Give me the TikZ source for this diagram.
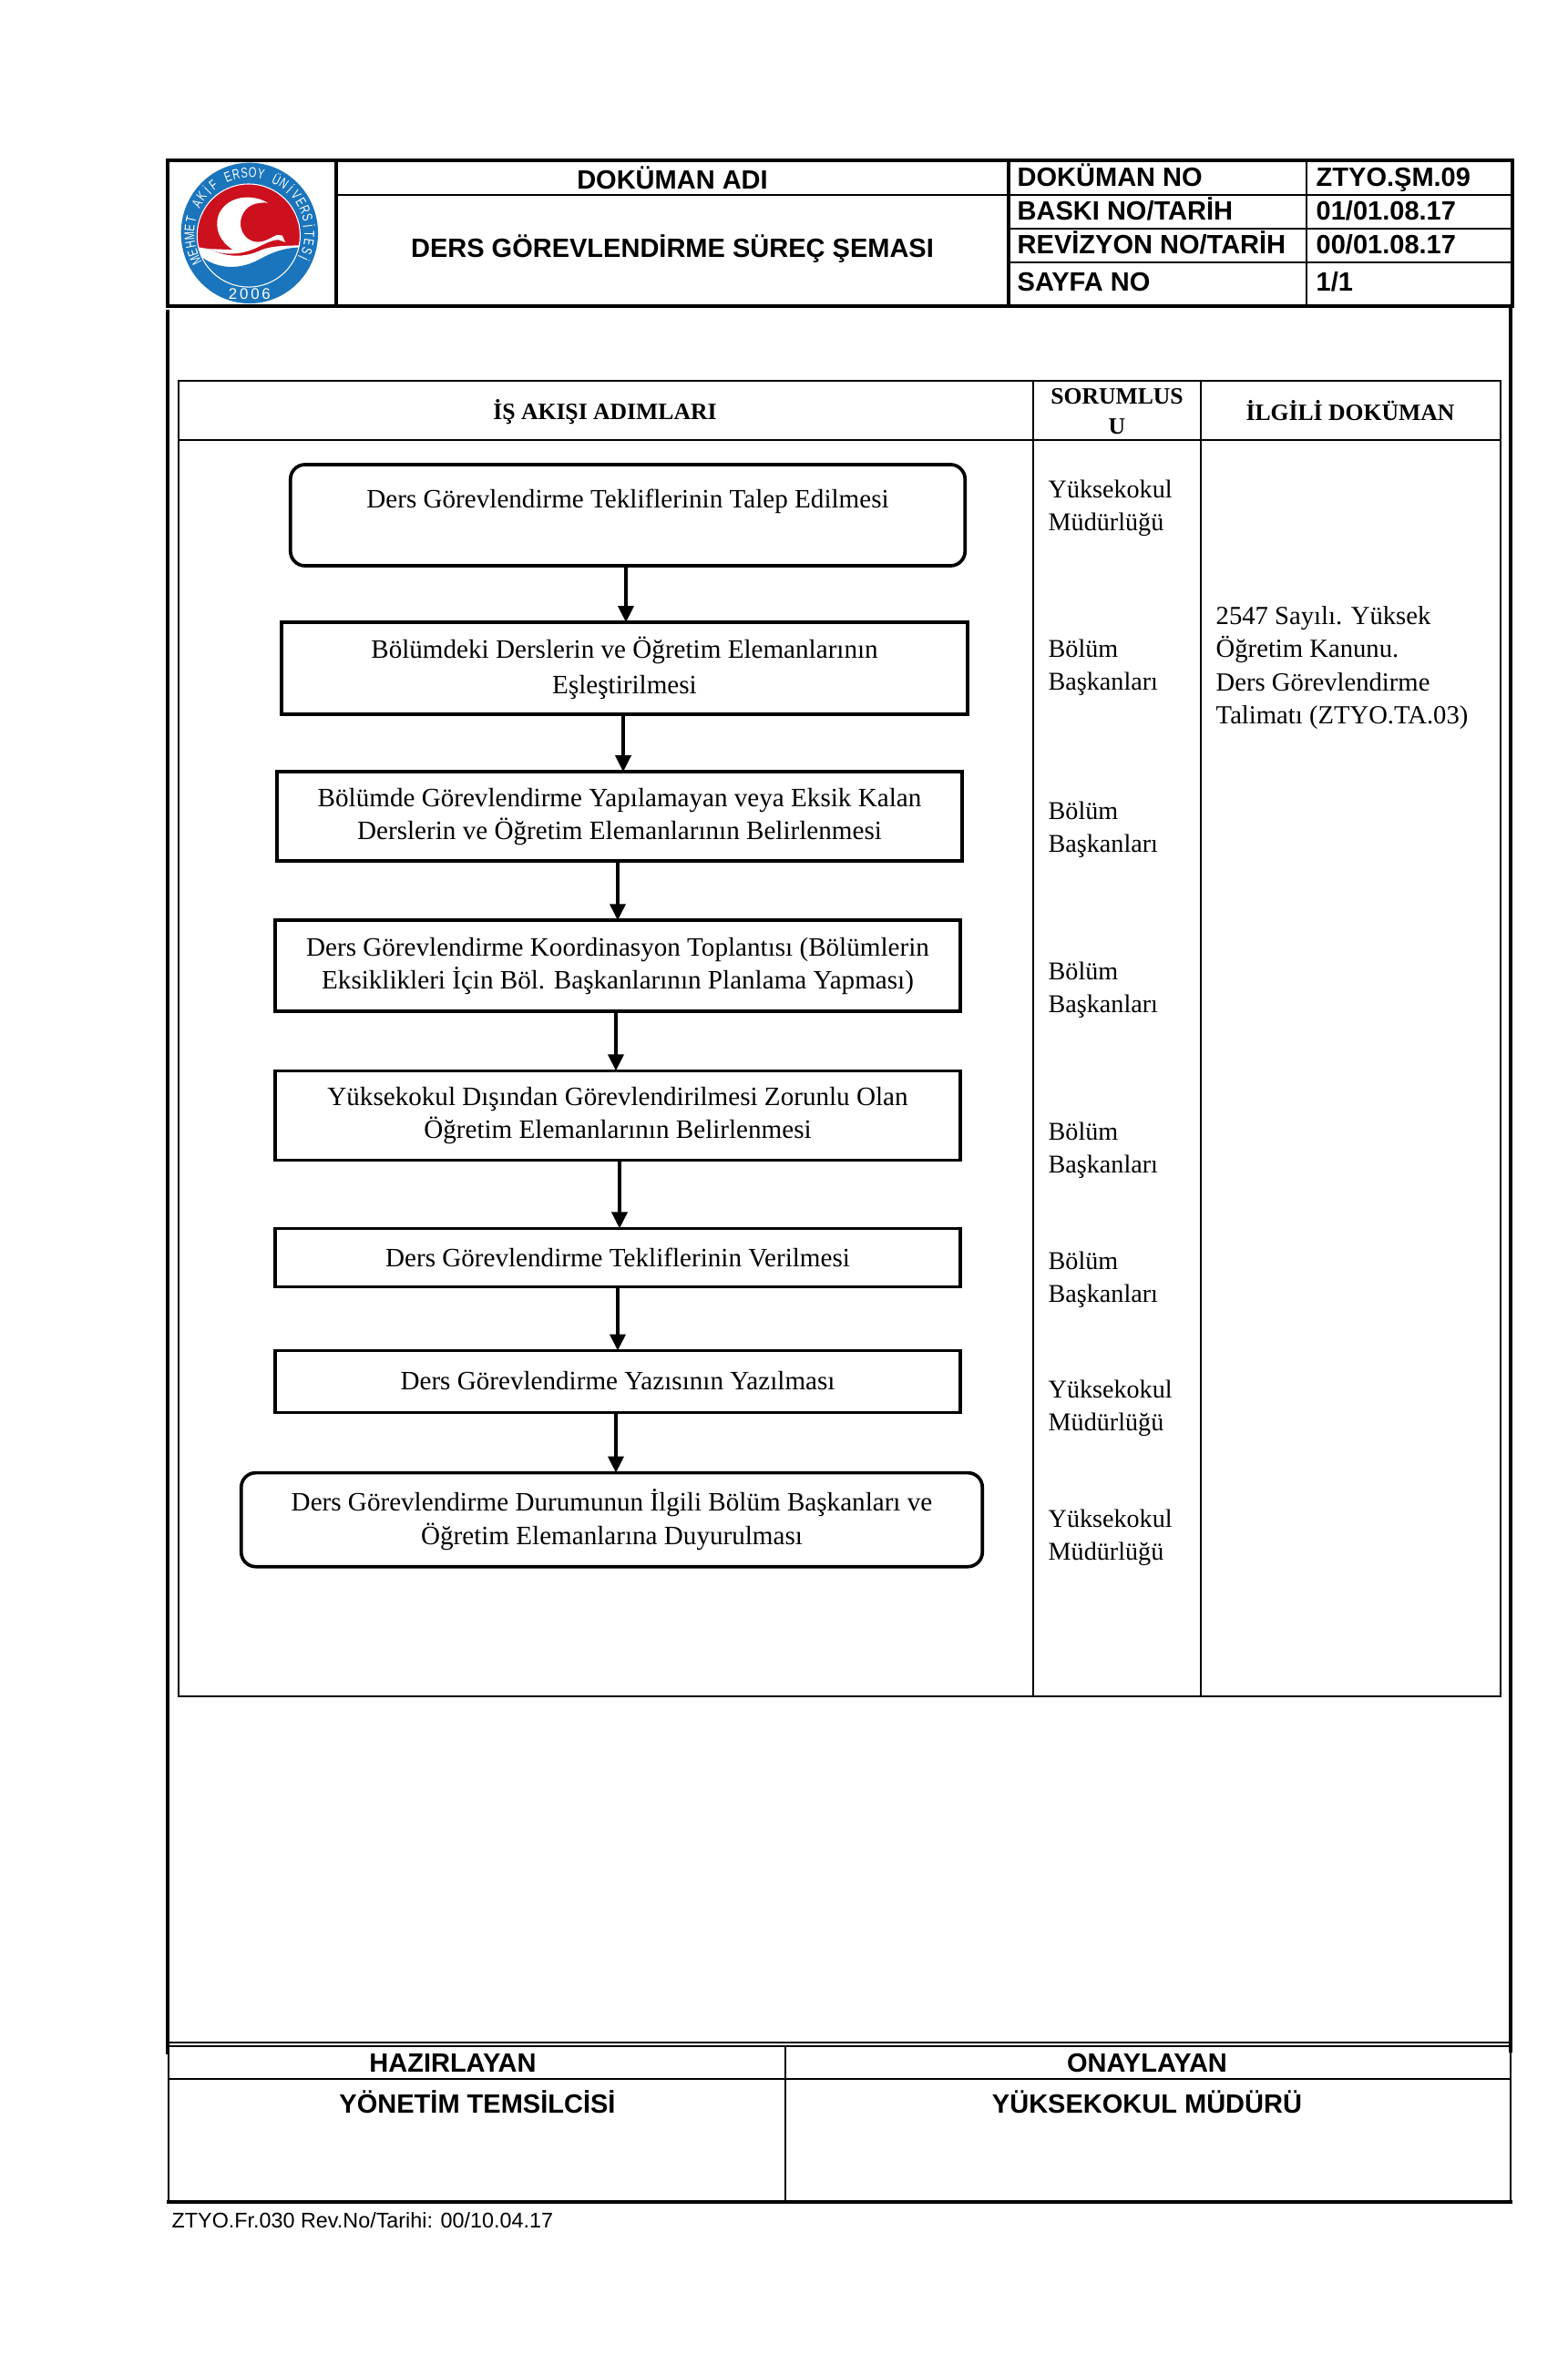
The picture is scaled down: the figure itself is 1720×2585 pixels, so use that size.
\documentclass[tikz,border=0pt]{standalone}
\usepackage{fontspec}
\setmainfont{Liberation Serif}
\setsansfont{Liberation Sans}
\usetikzlibrary{arrows.meta,positioning}
\definecolor{logoblue}{RGB}{27,117,188}
\definecolor{logored}{RGB}{204,16,30}

\begin{document}
\begin{tikzpicture}[
      x=0.01cm, y=-0.01cm,
      stepbox/.style={draw, line width=1.05pt, outer sep=0pt, inner sep=0pt, minimum width=7.52cm,
                  align=center, font=\fontsize{8.28}{10.3}\selectfont},
      roundbox/.style={stepbox, rounded corners=0.16cm},
      arr/.style={-{Triangle[length=0.18cm,width=0.17cm]}, line width=1.05pt},
      heavy/.style={line width=1.2pt},
      thin line/.style={line width=0.65pt},
      headtext/.style={font=\sffamily\bfseries\fontsize{8.25}{10}\selectfont, inner sep=0pt},
      headleft/.style={headtext, anchor=base west},
      tablehead/.style={font=\bfseries\fontsize{7.3}{9.4}\selectfont, inner sep=0pt, align=center},
      resp/.style={anchor=west, align=left, inner sep=0pt, font=\fontsize{8}{10.2}\selectfont},
      logotext/.style={text=white, inner sep=0pt, font=\sffamily\fontsize{4.4}{5}\selectfont}
    ]
      \useasboundingbox (0,0) rectangle (1720,2585);

      \draw[heavy] (184,176) rectangle (1660,336);
      \draw[heavy] (369,176) -- (369,336);
      \draw[heavy] (1107,176) -- (1107,336);
      \draw[thin line] (1434,176) -- (1434,336);
      \draw[thin line] (369,214) -- (1107,214);
      \draw[thin line] (1107,214) -- (1660,214);
      \draw[thin line] (1107,251) -- (1660,251);
      \draw[thin line] (1107,288) -- (1660,288);

      \begin{scope}[shift={(184,176)}, x=0.00333cm, y=-0.00333cm]
        \fill[logoblue] (270,240) ellipse [x radius=226, y radius=232];
        \begin{scope}
          \clip (267,248) circle [radius=170];
          \fill[logored] (267,248) circle [radius=170];
          \fill[white] (90,285) -- (135,292) .. controls (190,318) and (250,325) .. (310,295) .. controls (350,280) and (400,282) .. (445,280) -- (445,430) -- (90,430) -- cycle;
          \fill[logoblue] (90,300) .. controls (150,360) and (230,365) .. (300,328) .. controls (350,300) and (390,287) .. (445,287) -- (445,430) -- (90,430) -- cycle;
        \end{scope}
        \draw[white, line width=0.3pt] (267,248) circle [radius=170];
        \fill[white] (330,140) .. controls (280,110) and (200,115) .. (170,175) .. controls (150,225) and (175,270) .. (215,295) -- (135,292) .. controls (190,318) and (250,310) .. (300,285) .. controls (330,270) and (350,262) .. (365,262) -- (388,270) -- (378,248) -- (362,246) .. controls (345,250) and (320,275) .. (285,268) .. controls (235,255) and (225,190) .. (265,155) .. controls (280,143) and (305,138) .. (330,140) -- cycle;
        \foreach \ch [count=\i] in {M,E,H,M,E,T,{},A,K,İ,F,{},E,R,S,O,Y,{},Ü,N,İ,V,E,R,S,İ,T,E,S,İ} {
          \pgfmathsetmacro\ang{207-(\i-1)*8}
          \node[logotext, rotate=\ang-90] (l\i) at ({270+198*cos(\ang)},{240-200*sin(\ang)}) {\scalebox{0.72}[1]{\ch}};
        }
        \node[logotext, font=\sffamily\fontsize{4.8}{6}\selectfont] (year) at (270,440) {2\,0\,0\,6};
      \end{scope}

      \node[headtext] (docname) at (738,195) {DOKÜMAN ADI};
      \node[headtext] (doctitle) at (738,273) {DERS GÖREVLENDİRME SÜREÇ ŞEMASI};
      \node[headleft] (nolabel) at (1116,205) {DOKÜMAN NO};
      \node[headleft] (novalue) at (1444,205) {ZTYO.ŞM.09};
      \node[headleft] (printlabel) at (1116,242) {BASKI NO/TARİH};
      \node[headleft] (printvalue) at (1444,242) {01/01.08.17};
      \node[headleft] (revlabel) at (1116,279) {REVİZYON NO/TARİH};
      \node[headleft] (revvalue) at (1444,279) {00/01.08.17};
      \node[headleft] (pagelabel) at (1116,320) {SAYFA NO};
      \node[headleft] (pagevalue) at (1444,320) {1/1};

      \draw[heavy] (184,340) -- (184,2255);
      \draw[heavy] (1658,336) -- (1658,2253);

      \draw[thin line] (196,418) rectangle (1647,1862);
      \draw[thin line] (196,483) -- (1647,483);
      \draw[thin line] (1134,418) -- (1134,1862);
      \draw[thin line] (1318,418) -- (1318,1862);
      \node[tablehead] (flowhead) at (664,452) {İŞ AKIŞI ADIMLARI};
      \node[tablehead] (resphead) at (1226,452) {SORUMLUS\\U};
      \node[tablehead] (dochead) at (1482,451) {İLGİLİ DOKÜMAN};

      \node[roundbox, minimum width=7.40cm, minimum height=1.11cm] (talep) at (689,565.5) {Ders Görevlendirme Tekliflerinin Talep Edilmesi\\ \mbox{}};
      \node[stepbox, minimum width=7.53cm, minimum height=1.01cm, below=0.62cm of talep, xshift=-0.035cm] (eslestir) {Bölümdeki Derslerin ve Öğretim Elemanlarının\\[0.7pt]Eşleştirilmesi};
      \node[stepbox, minimum height=0.98cm, below=0.63cm of eslestir, xshift=-0.055cm] (eksik) {Bölümde Görevlendirme Yapılamayan veya Eksik Kalan\\Derslerin ve Öğretim Elemanlarının Belirlenmesi};
      \node[stepbox, minimum height=1.00cm, below=0.65cm of eksik, xshift=-0.02cm] (toplanti) {Ders Görevlendirme Koordinasyon Toplantısı (Bölümlerin\\Eksiklikleri İçin Böl. Başkanlarının Planlama Yapması)};
      \node[stepbox, minimum height=0.98cm, below=0.65cm of toplanti] (disindan) {Yüksekokul Dışından Görevlendirilmesi Zorunlu Olan\\Öğretim Elemanlarının Belirlenmesi};
      \node[stepbox, minimum height=0.64cm, below=0.75cm of disindan] (verilmesi) {Ders Görevlendirme Tekliflerinin Verilmesi};
      \node[stepbox, minimum height=0.68cm, below=0.70cm of verilmesi] (yazi) {\raisebox{0.7pt}{Ders Görevlendirme Yazısının Yazılması}};
      \node[roundbox, minimum width=8.13cm, minimum height=1.03cm, below=0.66cm of yazi, xshift=-0.065cm] (duyuru) {Ders Görevlendirme Durumunun İlgili Bölüm Başkanları ve\\Öğretim Elemanlarına Duyurulması};

      \draw[arr] ([xshift=-0.02cm]talep.south) -- ([xshift=0.015cm]eslestir.north);
      \draw[arr] ([xshift=-0.015cm]eslestir.south) -- ([xshift=0.04cm]eksik.north);
      \draw[arr] ([xshift=-0.02cm]eksik.south) -- (toplanti.north);
      \draw[arr] ([xshift=-0.02cm]toplanti.south) -- ([xshift=-0.02cm]disindan.north);
      \draw[arr] ([xshift=0.02cm]disindan.south) -- ([xshift=0.02cm]verilmesi.north);
      \draw[arr] (verilmesi.south) -- (yazi.north);
      \draw[arr] ([xshift=-0.02cm]yazi.south) -- ([xshift=0.045cm]duyuru.north);

      \node[resp] (resp1) at (1150,558) {Yüksekokul\\Müdürlüğü};
      \node[resp] (resp2) at (1150,733) {Bölüm\\Başkanları};
      \node[resp] (resp3) at (1150,911) {Bölüm\\Başkanları};
      \node[resp] (resp4) at (1150,1087) {Bölüm\\Başkanları};
      \node[resp] (resp5) at (1150,1263) {Bölüm\\Başkanları};
      \node[resp] (resp6) at (1150,1405) {Bölüm\\Başkanları};
      \node[resp] (resp7) at (1150,1546) {Yüksekokul\\Müdürlüğü};
      \node[resp] (resp8) at (1150,1688) {Yüksekokul\\Müdürlüğü};
      \node[resp, font=\fontsize{8.15}{10.3}\selectfont] (docs) at (1334,733) {2547 Sayılı. Yüksek\\Öğretim Kanunu.\\Ders Görevlendirme\\Talimatı (ZTYO.TA.03)};

      \draw[thin line] (185,2242) -- (1658,2242);
      \draw[thin line] (185,2246) -- (1658,2246);
      \draw[thin line] (185,2246) -- (185,2417);
      \draw[thin line] (1658,2246) -- (1658,2417);
      \draw[thin line] (862,2246) -- (862,2417);
      \draw[thin line] (185,2282) -- (1658,2282);
      \draw[heavy] (183,2417) -- (1660,2417);
      \node[headtext] (prepared) at (497,2264) {HAZIRLAYAN};
      \node[headtext] (approved) at (1259,2264) {ONAYLAYAN};
      \node[headtext] (preparer) at (524,2307) {YÖNETİM TEMSİLCİSİ};
      \node[headtext] (approver) at (1259,2307) {YÜKSEKOKUL MÜDÜRÜ};
      \node[anchor=west, inner sep=0pt, font=\sffamily\fontsize{6.64}{8}\selectfont] (formno) at (188,2437) {ZTYO.Fr.030 Rev.No/Tarihi: 00/10.04.17};
    \end{tikzpicture}
\end{document}
